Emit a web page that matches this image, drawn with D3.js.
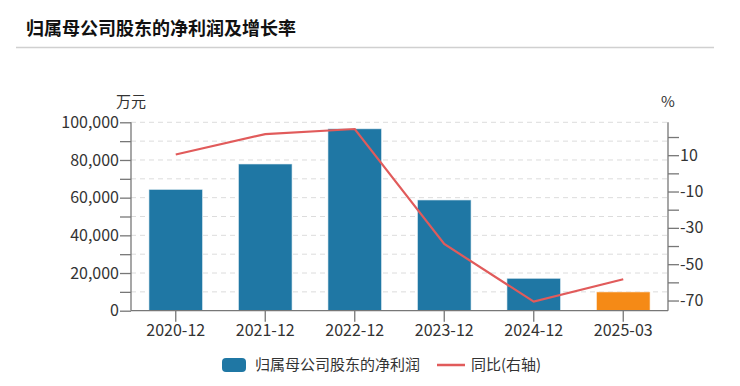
<!DOCTYPE html>
<html>
<head>
<meta charset="utf-8">
<script src="https://cdn.jsdelivr.net/npm/d3@7"></script>
<style>
  body { margin: 0; background: #fff; }
  svg text { font-family: "Noto Sans CJK SC", "Noto Sans", sans-serif; fill: #333; }
</style>
</head>
<body>
<script>
// data
const categories = ["2020-12", "2021-12", "2022-12", "2023-12", "2024-12", "2025-03"];
const profit = [64400, 77900, 96600, 58800, 17200, 10000];   // 万元
const growth = [10.4, 21.6, 24.4, -38.9, -70.6, -58.3];       // %
const leftTicks = d3.range(0, 100001, 10000);
const rightTicks = d3.range(-70, 21, 10);
const rightLabels = [10, -10, -30, -50, -70];

const width = 740, height = 386;
const plotL = 131, plotR = 668, plotT = 122.3, plotB = 310.7;

const svg = d3.select("body").append("svg")
  .attr("width", width)
  .attr("height", height);

// title
svg.append("text")
  .attr("x", 26).attr("y", 35)
  .attr("font-size", 18).attr("font-weight", "bold")
  .style("fill", "#111")
  .text("归属母公司股东的净利润及增长率");
svg.append("line")
  .attr("x1", 16).attr("x2", 714).attr("y1", 47.5).attr("y2", 47.5)
  .attr("stroke", "#d0d0d0").attr("stroke-width", 1.5);

// scales
const x = d3.scaleBand().domain(categories).range([plotL, plotR]).paddingInner(0).paddingOuter(0);
const yL = d3.scaleLinear().domain([0, 100000]).range([plotB, plotT]);
const yR = d3.scaleLinear().domain([-75.6, 28.1]).range([plotB, plotT]);

// grid
svg.append("g").selectAll("line")
  .data(leftTicks.filter(d => d > 0))
  .join("line")
  .attr("x1", plotL).attr("x2", plotR)
  .attr("y1", d => yL(d)).attr("y2", d => yL(d))
  .attr("stroke", "#dcdcdc").attr("stroke-dasharray", "5,4");

// bars
const barW = x.bandwidth() * 0.6;
svg.append("g").selectAll("rect")
  .data(profit)
  .join("rect")
  .attr("x", (d, i) => x(categories[i]) + (x.bandwidth() - barW) / 2)
  .attr("y", d => yL(d))
  .attr("width", barW)
  .attr("height", d => plotB - yL(d))
  .attr("fill", (d, i) => i === categories.length - 1 ? "#f58a16" : "#1f77a4")
  .attr("stroke", "rgba(255,255,255,0.6)").attr("stroke-width", 1);

// growth line
const line = d3.line()
  .x((d, i) => x(categories[i]) + x.bandwidth() / 2)
  .y(d => yR(d));
svg.append("path")
  .datum(growth)
  .attr("d", line)
  .attr("fill", "none")
  .attr("stroke", "#e15b5b")
  .attr("stroke-width", 2.2);

// axes
const axisColor = "#777";
const gL = svg.append("g").attr("transform", `translate(${plotL},0)`)
  .call(d3.axisLeft(yL).tickValues(leftTicks).tickSize(11).tickPadding(1)
    .tickFormat(d => d % 20000 === 0 ? d3.format(",")(d) : ""));
const gR = svg.append("g").attr("transform", `translate(${plotR},0)`)
  .call(d3.axisRight(yR).tickValues(rightTicks).tickSize(11).tickPadding(1)
    .tickFormat(d => rightLabels.includes(d) ? d : ""));
const gX = svg.append("g").attr("transform", `translate(0,${plotB})`)
  .call(d3.axisBottom(x).tickSize(11).tickPadding(3));

[gL, gR, gX].forEach(g => {
  g.select(".domain").attr("stroke", axisColor).attr("stroke-width", 1.3);
  g.selectAll(".tick line").attr("stroke", axisColor).attr("stroke-width", 1.3);
  g.selectAll(".tick text").attr("font-size", 16).style("fill", "#333")
    .attr("font-family", "\"Noto Sans CJK SC\", sans-serif");
});
gL.select(".domain").attr("d", `M0,${plotB}V${plotT}`);
gR.select(".domain").attr("d", `M0,${plotB}V${plotT}`);
gX.select(".domain").attr("d", `M${plotL},0H${plotR}`);

// unit labels
svg.append("text").attr("x", plotL).attr("y", 107).attr("text-anchor", "middle")
  .attr("font-size", 15).text("万元");
svg.append("text").attr("x", plotR).attr("y", 107).attr("text-anchor", "middle")
  .attr("font-size", 15).text("%");

// legend
const lg = svg.append("g");
lg.append("rect").attr("x", 222).attr("y", 358).attr("width", 24).attr("height", 14)
  .attr("rx", 4).attr("fill", "#1f77a4");
lg.append("text").attr("x", 255).attr("y", 370).attr("font-size", 15).text("归属母公司股东的净利润");
lg.append("line").attr("x1", 437).attr("x2", 465).attr("y1", 365).attr("y2", 365)
  .attr("stroke", "#e15b5b").attr("stroke-width", 2.5);
lg.append("text").attr("x", 471).attr("y", 370).attr("font-size", 15).text("同比(右轴)");
</script>
</body>
</html>
